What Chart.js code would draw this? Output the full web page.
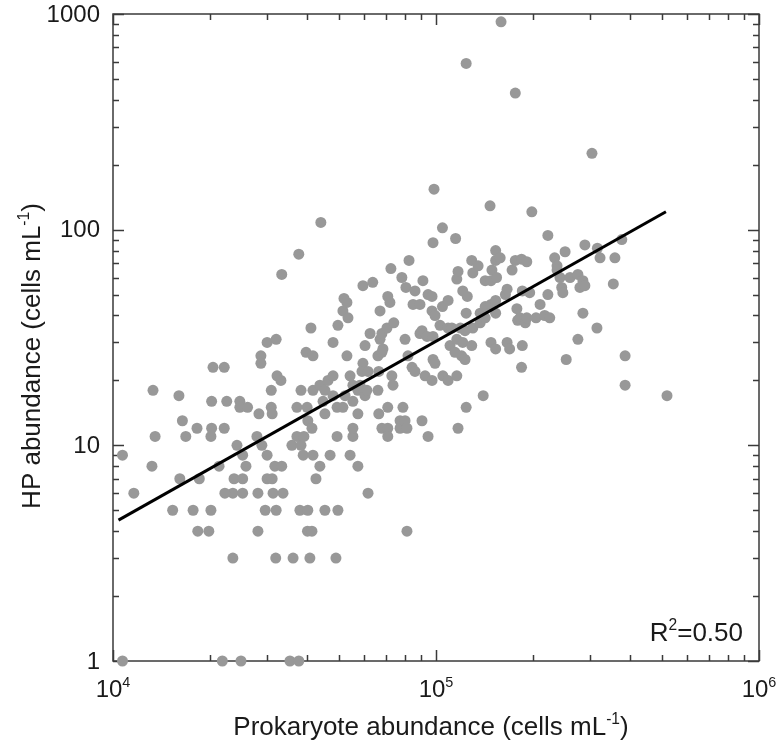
<!DOCTYPE html>
<html>
<head>
<meta charset="utf-8">
<script src="https://cdn.jsdelivr.net/npm/chart.js@4.4.0/dist/chart.umd.min.js"></script>
<style>
  body { margin: 0; background: #fff; }
  canvas { display: block; }
</style>
</head>
<body>
<canvas id="hpChart" width="779" height="744"></canvas>
<script>
// data: prokaryote abundance (x) vs HP abundance (y), cells mL-1
var prokaryote = [
  10700, 10700, 11600, 13200, 13500, 13300, 15300, 16100, 16000, 16400,
  16800, 17700, 18200, 18500, 18300, 19800, 20100, 20100, 20200, 20400,
  20200, 21300, 21800, 22100, 22100, 22500, 23500, 23500, 23700, 22200,
  24200, 24700, 24700, 24900, 25200, 25200, 25200, 25800, 26100, 27900,
  28100, 28100, 28300, 28700, 28700, 28900, 29600, 30000, 30000, 30000,
  30900, 30900, 31100, 31100, 31300, 31700, 31900, 32000, 32000, 32200,
  33100, 33300, 33600, 33300, 35300, 35800, 36100, 37100, 37100, 37600,
  37600, 37900, 38200, 38200, 38800, 39000, 39600, 40000, 40700, 40100,
  39900, 41000, 41300, 41600, 40100, 41300, 41600, 41600, 42500, 43700,
  43700, 44000, 44700, 45300, 45300, 45300, 46300, 47000, 48000, 48000,
  48000, 49000, 49400, 49400, 49700, 49700, 51500, 51900, 53000, 51500,
  53400, 53000, 52300, 54200, 54200, 55300, 55300, 55300, 55300, 57300,
  57300, 57300, 58200, 59400, 63700, 59400, 59000, 61600, 60300, 60300,
  61100, 61600, 62500, 66100, 66100, 66500, 66500, 67100, 67100, 68000,
  68000, 68500, 70500, 68000, 70900, 70900, 70900, 70900, 72000, 72500,
  73000, 73600, 74000, 77400, 77400, 78400, 79000, 80200, 81300, 80200,
  80700, 81300, 81900, 82500, 84300, 84900, 86100, 86100, 89200, 89200,
  90500, 91100, 90500, 92500, 93800, 94500, 94500, 97200, 97200, 97200,
  97900, 97900, 97900, 98600, 99300, 99300, 102900, 104700, 104700, 105000,
  109000, 109000, 109000, 110500, 112000, 114500, 115000, 116000, 116000, 116000,
  117000, 117000, 119000, 120000, 121000, 121000, 123000, 123000, 124000, 124000,
  124000, 125000, 129000, 129000, 130000, 130000, 135000, 137000, 137000, 140000,
  142000, 142000, 142000, 147000, 148000, 148000, 148000, 153000, 153000, 149000,
  153000, 153000, 154000, 153000, 159000, 158000, 166000, 164000, 166000, 169000,
  172000, 176000, 176000, 178000, 179000, 182000, 184000, 184000, 185000, 185000,
  189000, 191000, 191000, 195000, 198000, 204000, 210000, 217000, 222000, 222000,
  225000, 233000, 237000, 237000, 242000, 245000, 247000, 251000, 253000, 260000,
  275000, 275000, 279000, 285000, 289000, 285000, 289000, 304000, 315000, 316000,
  322000, 354000, 358000, 376000, 385000, 385000, 519000
];
var hp = [
  9, 1, 6, 8, 11, 18, 5, 7, 17, 13,
  11, 5, 12, 7, 4, 4, 5, 11, 12, 23,
  16, 8, 1, 12, 23, 16, 3, 6, 7, 6,
  10, 16, 15, 1, 9, 7, 6, 8, 15, 11,
  6, 4, 14, 26, 24, 10, 5, 9, 7, 30,
  18, 15, 14, 7, 6, 8, 3, 31, 5, 21,
  20, 8, 6, 62, 1, 10, 3, 11, 15, 1,
  77, 5, 18, 10, 9, 11, 27, 4, 3, 13,
  15, 35, 12, 9, 5, 4, 18, 26, 7, 8,
  19, 108, 16, 18, 14, 5, 20, 9, 30, 21,
  17, 3, 15, 11, 5, 36, 15, 48, 46, 42,
  39, 26, 17, 21, 9, 11, 19, 16, 12, 8,
  18, 14, 19, 55, 57, 24, 22, 22, 29, 17,
  18, 6, 33, 26, 18, 22, 14, 42, 31, 33,
  27, 28, 35, 12, 12, 11, 15, 49, 46, 66,
  21, 19, 37, 13, 12, 60, 15, 13, 12, 31,
  54, 4, 26, 72, 23, 45, 52, 22, 45, 33,
  34, 58, 13, 21, 32, 50, 11, 49, 42, 20,
  32, 25, 87, 154, 40, 24, 36, 102, 44, 21,
  35, 47, 20, 29, 35, 27, 91, 59, 31, 21,
  12, 64, 35, 26, 52, 30, 34, 25, 590, 41,
  15, 49, 72, 29, 63, 35, 68, 41, 37, 17,
  58, 44, 39, 129, 58, 45, 30, 80, 72, 65,
  47, 28, 60, 41, 920, 74, 30, 50, 53, 28,
  65, 430, 72, 43, 38, 39, 73, 23, 52, 29,
  37, 71, 39, 51, 121, 39, 45, 40, 94, 50,
  39, 74, 68, 65, 60, 54, 51, 79, 25, 60,
  62, 31, 54, 58, 55, 41, 85, 226, 35, 82,
  74, 56, 74, 90, 26, 19, 17
];

// regression line end points
var fitX = [10400, 515000];
var fitY = [4.5, 121];

var xTicks = [1e4, 1e5, 1e6];
var xTickExp = ['4', '5', '6'];
var yTicks = [1, 10, 100, 1000];
var yTickLabels = ['1', '10', '100', '1000'];
var xTitle = 'Prokaryote abundance (cells mL';
var yTitle = 'HP abundance (cells mL';
var rSquared = '0.50';

var FONT = '"Liberation Sans", Arial, Helvetica, sans-serif';
var INK = '#1a1a1a';
var FRAME = '#3a3a3a';
var TICK_SIZE = 24;
var TITLE_SIZE = 26;

var points = prokaryote.map(function(x, i) { return { x: x, y: hp[i] }; });
var fitLine = fitX.map(function(x, i) { return { x: x, y: fitY[i] }; });

// major + minor positions of a log axis
function logSteps(min, max) {
  var out = [];
  for (var d = min; d < max; d *= 10) {
    for (var m = 1; m < 10; m++) out.push({ v: d * m, major: m === 1 });
  }
  out.push({ v: max, major: true });
  return out;
}

// text made of pieces, some raised as superscript
function richWidth(ctx, parts, size) {
  var w = 0;
  parts.forEach(function(p) {
    ctx.font = (p.sup ? size * 0.6 : size) + 'px ' + FONT;
    w += ctx.measureText(p.t).width;
  });
  return w;
}
function drawRich(ctx, parts, x, y, size) {
  // x is the left edge, y the baseline
  parts.forEach(function(p) {
    ctx.font = (p.sup ? size * 0.6 : size) + 'px ' + FONT;
    ctx.fillText(p.t, x, p.sup ? y - size * 0.42 : y);
    x += ctx.measureText(p.t).width;
  });
}

var framePlugin = {
  id: 'frame',
  beforeDatasetsDraw: function(chart) {
    var ctx = chart.ctx, a = chart.chartArea;
    var xs = chart.scales.x, ys = chart.scales.y;
    ctx.save();
    ctx.strokeStyle = FRAME;
    ctx.lineWidth = 1.5;
    ctx.strokeRect(a.left, a.top, a.right - a.left, a.bottom - a.top);
    ctx.beginPath();
    logSteps(xTicks[0], xTicks[xTicks.length - 1]).forEach(function(t) {
      var px = Math.round(xs.getPixelForValue(t.v)) + 0.5;
      var len = t.major ? 11 : 6;
      ctx.moveTo(px, a.bottom); ctx.lineTo(px, a.bottom - len);
      ctx.moveTo(px, a.top); ctx.lineTo(px, a.top + len);
    });
    logSteps(yTicks[0], yTicks[yTicks.length - 1]).forEach(function(t) {
      var py = Math.round(ys.getPixelForValue(t.v)) + 0.5;
      var len = t.major ? 11 : 6;
      ctx.moveTo(a.left, py); ctx.lineTo(a.left + len, py);
      ctx.moveTo(a.right, py); ctx.lineTo(a.right - len, py);
    });
    ctx.stroke();
    ctx.restore();
  },
  afterDraw: function(chart) {
    var ctx = chart.ctx, a = chart.chartArea;
    var xs = chart.scales.x, ys = chart.scales.y;
    ctx.save();
    ctx.fillStyle = INK;

    // y tick labels
    ctx.font = TICK_SIZE + 'px ' + FONT;
    ctx.textAlign = 'right';
    ctx.textBaseline = 'middle';
    yTicks.forEach(function(v, i) {
      ctx.fillText(yTickLabels[i], a.left - 13, ys.getPixelForValue(v) + 1);
    });

    // x tick labels 10^n
    ctx.textAlign = 'left';
    ctx.textBaseline = 'alphabetic';
    xTicks.forEach(function(v, i) {
      var parts = [{ t: '10' }, { t: xTickExp[i], sup: true }];
      var w = richWidth(ctx, parts, TICK_SIZE);
      drawRich(ctx, parts, xs.getPixelForValue(v) - w / 2, a.bottom + 36, TICK_SIZE);
    });

    // axis titles
    var xParts = [{ t: xTitle }, { t: '-1', sup: true }, { t: ')' }];
    var xw = richWidth(ctx, xParts, TITLE_SIZE);
    drawRich(ctx, xParts, (a.left + a.right) / 2 - 5 - xw / 2, a.bottom + 74, TITLE_SIZE);

    var yParts = [{ t: yTitle }, { t: '-1', sup: true }, { t: ')' }];
    var yw = richWidth(ctx, yParts, TITLE_SIZE);
    ctx.save();
    ctx.translate(40, 356);
    ctx.rotate(-Math.PI / 2);
    drawRich(ctx, yParts, -yw / 2, 0, TITLE_SIZE);
    ctx.restore();

    // R squared note
    var rParts = [{ t: 'R' }, { t: '2', sup: true }, { t: '=' + rSquared }];
    var rw = richWidth(ctx, rParts, TITLE_SIZE);
    drawRich(ctx, rParts, a.right - 16 - rw, a.bottom - 20, TITLE_SIZE);

    ctx.restore();
  }
};

var hpchart = document.getElementById('hpChart');

let hpChart = new Chart(hpchart, {
  type: 'scatter',
  data: {
    datasets: [
      {
        type: 'line',
        label: 'fit',
        data: fitLine,
        borderColor: '#000000',
        borderWidth: 3,
        pointRadius: 0,
        fill: false,
        order: 0
      },
      {
        label: 'HP',
        data: points,
        backgroundColor: 'rgb(152, 152, 152)',
        borderWidth: 0,
        pointRadius: 5.5,
        pointHoverRadius: 5.5,
        clip: false,
        order: 1
      }
    ]
  },
  options: {
    responsive: false,
    animation: false,
    layout: { padding: { left: 113, right: 20, top: 14, bottom: 83 } },
    plugins: {
      legend: { display: false },
      tooltip: { enabled: false }
    },
    scales: {
      x: { type: 'logarithmic', min: 1e4, max: 1e6, display: false },
      y: { type: 'logarithmic', min: 1, max: 1000, display: false }
    }
  },
  plugins: [framePlugin]
});
</script>
</body>
</html>
